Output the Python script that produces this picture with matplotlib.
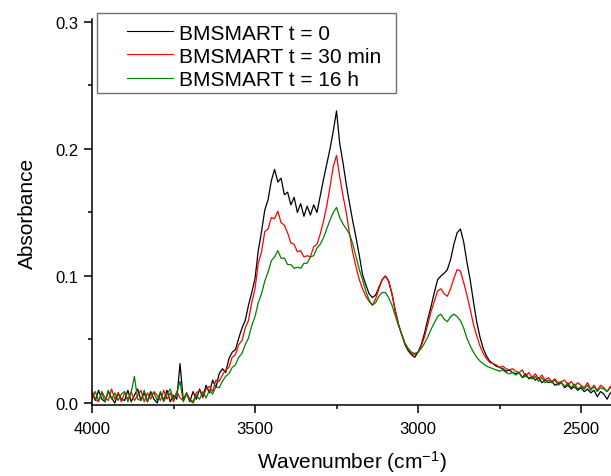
import numpy as np
import matplotlib
matplotlib.use('Agg')
import matplotlib.pyplot as plt
from matplotlib.patches import Rectangle
from matplotlib.ticker import MultipleLocator, FormatStrFormatter

# wavenumber grid (cm-1), 4000 -> 2410 in 10 cm-1 steps
wavenumber = np.arange(4000, 2400, -10)

# BMSMART t = 0
abs_t0 = [
    0.008, 0.002, 0.010, 0.003, 0.001, 0.009, 0.004, 0.000, 0.008, 0.003,
    0.002, 0.010, 0.001, 0.006, 0.011, 0.002, 0.008, 0.001, 0.009, 0.003,
    0.000, 0.008, 0.002, 0.010, 0.001, 0.006, 0.003, 0.031, 0.002, 0.008,
    0.001, 0.009, 0.003, 0.011, 0.005, 0.014, 0.008, 0.018, 0.012, 0.023,
    0.027, 0.024, 0.035, 0.040, 0.042, 0.051, 0.059, 0.065, 0.077, 0.087,
    0.098, 0.120, 0.135, 0.152, 0.160, 0.175, 0.184, 0.174, 0.177, 0.164,
    0.166, 0.156, 0.162, 0.150, 0.157, 0.147, 0.155, 0.148, 0.156, 0.150,
    0.163, 0.176, 0.188, 0.200, 0.214, 0.230, 0.204, 0.189, 0.172, 0.157,
    0.143, 0.130, 0.116, 0.101, 0.093, 0.086, 0.083, 0.085, 0.091, 0.097,
    0.100, 0.096, 0.086, 0.073, 0.062, 0.054, 0.046, 0.041, 0.038, 0.036,
    0.040, 0.046, 0.055, 0.066, 0.076, 0.087, 0.097, 0.100, 0.102, 0.105,
    0.113, 0.125, 0.134, 0.137, 0.127, 0.111, 0.097, 0.080, 0.064, 0.052,
    0.043, 0.037, 0.033, 0.031, 0.029, 0.028, 0.027, 0.025, 0.026, 0.024,
    0.023, 0.024, 0.020, 0.023, 0.019, 0.021, 0.018, 0.020, 0.016, 0.018,
    0.016, 0.017, 0.014, 0.015, 0.016, 0.012, 0.014, 0.011, 0.013, 0.010,
    0.012, 0.009, 0.011, 0.008, 0.010, 0.005, 0.009, 0.007, 0.003, 0.008,
]

# BMSMART t = 30 min
abs_t30 = [
    0.010, 0.003, 0.001, 0.009, 0.004, 0.002, 0.011, 0.003, 0.008, 0.001,
    0.008, 0.003, 0.009, 0.002, 0.006, 0.010, 0.001, 0.008, 0.003, 0.009,
    0.006, 0.002, 0.010, 0.003, 0.008, 0.001, 0.009, 0.004, 0.002, 0.008,
    0.003, 0.001, 0.008, 0.010, 0.004, 0.011, 0.013, 0.009, 0.018, 0.017,
    0.022, 0.026, 0.028, 0.036, 0.038, 0.046, 0.049, 0.059, 0.065, 0.079,
    0.090, 0.110, 0.119, 0.135, 0.137, 0.146, 0.145, 0.151, 0.142, 0.140,
    0.134, 0.126, 0.125, 0.119, 0.120, 0.115, 0.116, 0.115, 0.123, 0.125,
    0.133, 0.143, 0.155, 0.170, 0.186, 0.195, 0.178, 0.163, 0.150, 0.133,
    0.118, 0.107, 0.097, 0.090, 0.084, 0.080, 0.077, 0.082, 0.090, 0.097,
    0.100, 0.096, 0.086, 0.073, 0.062, 0.054, 0.047, 0.042, 0.039, 0.038,
    0.040, 0.045, 0.052, 0.062, 0.072, 0.080, 0.088, 0.090, 0.086, 0.084,
    0.090, 0.098, 0.105, 0.104, 0.095, 0.085, 0.074, 0.062, 0.053, 0.045,
    0.039, 0.035, 0.032, 0.031, 0.030, 0.028, 0.029, 0.027, 0.026, 0.027,
    0.025, 0.024, 0.026, 0.021, 0.024, 0.020, 0.023, 0.019, 0.022, 0.018,
    0.020, 0.017, 0.019, 0.016, 0.017, 0.018, 0.014, 0.017, 0.013, 0.016,
    0.014, 0.012, 0.016, 0.011, 0.014, 0.010, 0.014, 0.012, 0.009, 0.013,
]

# BMSMART t = 16 h
abs_t16 = [
    0.003, 0.009, 0.002, 0.008, 0.001, 0.010, 0.003, 0.008, 0.002, 0.007,
    0.009, 0.001, 0.008, 0.021, 0.003, 0.002, 0.010, 0.001, 0.007, 0.008,
    0.002, 0.009, 0.001, 0.007, 0.011, 0.003, 0.008, 0.017, 0.001, 0.007,
    0.002, 0.000, 0.006, 0.003, 0.009, 0.004, 0.010, 0.007, 0.013, 0.012,
    0.017, 0.021, 0.023, 0.028, 0.030, 0.036, 0.039, 0.046, 0.051, 0.061,
    0.068, 0.079, 0.086, 0.096, 0.103, 0.112, 0.115, 0.120, 0.114, 0.114,
    0.109, 0.109, 0.106, 0.107, 0.106, 0.110, 0.110, 0.115, 0.116, 0.122,
    0.125, 0.130, 0.137, 0.144, 0.150, 0.154, 0.146, 0.141, 0.137, 0.133,
    0.125, 0.115, 0.105, 0.097, 0.088, 0.081, 0.077, 0.079, 0.084, 0.087,
    0.087, 0.083, 0.077, 0.069, 0.061, 0.054, 0.047, 0.043, 0.040, 0.039,
    0.040, 0.043, 0.047, 0.052, 0.058, 0.063, 0.068, 0.070, 0.066, 0.064,
    0.068, 0.070, 0.068, 0.065, 0.059, 0.051, 0.045, 0.040, 0.036, 0.033,
    0.031, 0.029, 0.028, 0.027, 0.026, 0.025, 0.026, 0.024, 0.023, 0.024,
    0.022, 0.024, 0.020, 0.021, 0.020, 0.019, 0.021, 0.017, 0.020, 0.016,
    0.018, 0.016, 0.018, 0.014, 0.016, 0.013, 0.016, 0.012, 0.015, 0.011,
    0.013, 0.011, 0.014, 0.010, 0.013, 0.009, 0.012, 0.011, 0.009, 0.012,
]

series_labels = ['BMSMART t = 0', 'BMSMART t = 30 min', 'BMSMART t = 16 h']
series_colors = ['#000000', '#ff0000', '#008000']

plt.rcParams['font.family'] = ['Liberation Sans', 'DejaVu Sans']
plt.rcParams['mathtext.fontset'] = 'custom'
plt.rcParams['mathtext.rm'] = 'Liberation Sans'
plt.rcParams['mathtext.it'] = 'Liberation Sans:italic'

fig = plt.figure(figsize=(6.11, 4.77), dpi=100, facecolor='w')
ax = fig.add_axes([0.1506, 0.1488, 0.8494, 0.8094])

for y, lab, col in zip([abs_t0, abs_t30, abs_t16], series_labels, series_colors):
    ax.plot(wavenumber, y, color=col, lw=0.9, label=lab)

ax.set_xlim(4000, 2408)
ax.set_ylim(-0.0016, 0.3024)
ax.xaxis.set_major_locator(MultipleLocator(500))
ax.xaxis.set_minor_locator(MultipleLocator(250))
ax.yaxis.set_major_locator(MultipleLocator(0.1))
ax.yaxis.set_minor_locator(MultipleLocator(0.05))
ax.yaxis.set_major_formatter(FormatStrFormatter('%.1f'))

for s in ['top', 'right']:
    ax.spines[s].set_visible(False)
for s in ['left', 'bottom']:
    ax.spines[s].set_linewidth(1.1)
ax.tick_params(which='major', direction='out', length=5.5, width=1.1, labelsize=12)
ax.tick_params(which='minor', direction='out', length=3, width=1.1)
ax.tick_params(axis='x', which='major', pad=6)
ax.tick_params(axis='y', which='major', pad=4)

ax.set_xlabel('Wavenumber (cm$^{-1}$)', fontsize=15)
ax.set_ylabel('Absorbance', fontsize=15)
ax.xaxis.set_label_coords(0.5, -0.111)
ax.yaxis.set_label_coords(-0.107, 0.5)

leg = ax.legend(loc='upper left', bbox_to_anchor=(0.0674, 0.988), frameon=False,
                fontsize=15, handlelength=2.2, handletextpad=0.3,
                labelspacing=0.2, borderpad=0, borderaxespad=0)
for ln in leg.get_lines():
    ln.set_linewidth(0.8)
ax.add_patch(Rectangle((0.0096, 0.808), 0.576, 0.207, transform=ax.transAxes,
                       fill=False, edgecolor='#707070', lw=1.0, clip_on=False))

plt.savefig('out.png', dpi=100)
plt.close()
